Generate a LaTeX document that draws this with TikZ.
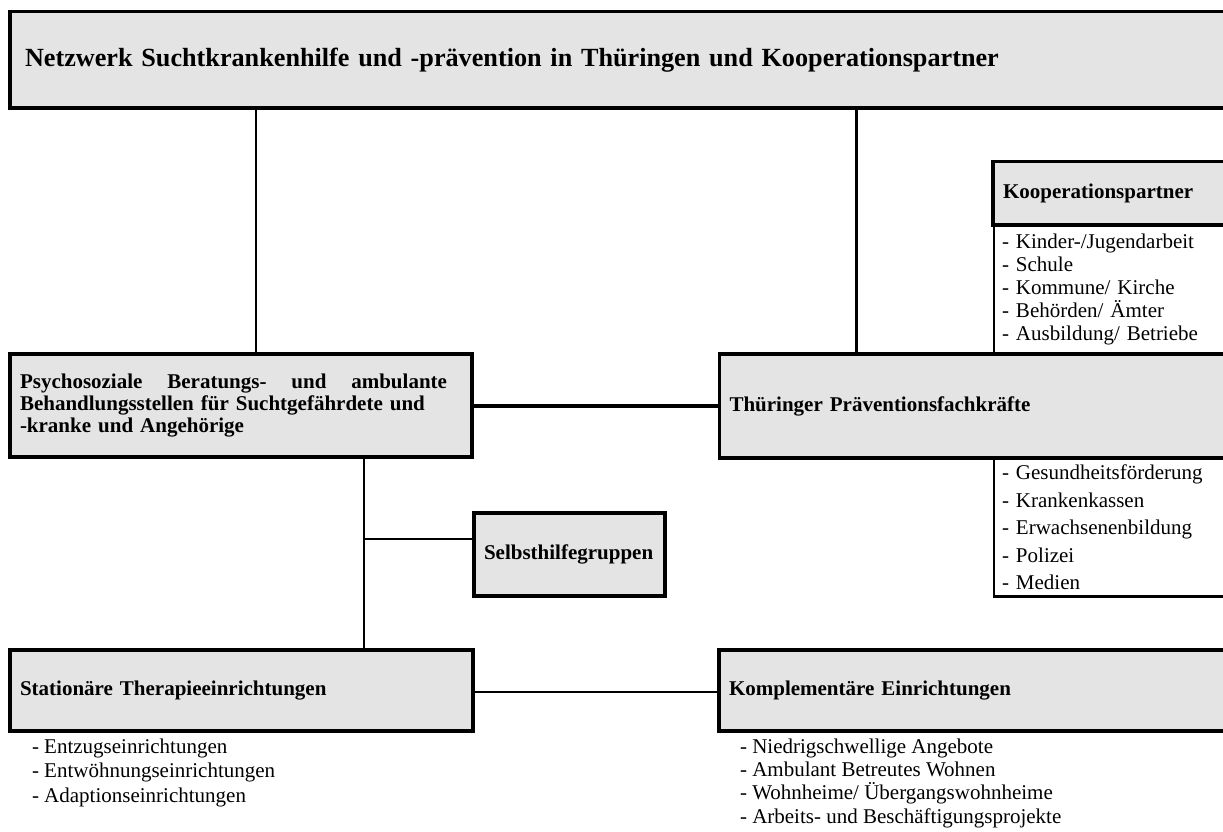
\documentclass[tikz,border=0pt]{standalone}
\usepackage{fontspec}
\setmainfont{Liberation Serif}
\definecolor{boxgray}{RGB}{228,228,228}
\begin{document}
\begin{tikzpicture}[x=1pt,y=-1pt,
  box/.style={draw, line width=3.5pt, fill=boxgray, rectangle, anchor=north west,
    inner xsep=10pt, inner ysep=0pt, outer sep=0pt, align=left,
    font=\fontsize{21}{22}\selectfont\bfseries},
  lstbox/.style={draw, line width=2.5pt, rectangle, anchor=north west,
    inner xsep=8pt, inner ysep=0pt, outer sep=0pt, align=left,
    font=\fontsize{21}{23}\selectfont},
  plainlist/.style={anchor=north west, inner sep=0pt, outer sep=0pt, align=left},
  conn/.style={line width=2.5pt}]
\useasboundingbox (0,0) rectangle (1223,832);
\clip (0,0) rectangle (1223,832);

% list boxes (drawn first, boxes on top)
\node[lstbox, text width=230pt, minimum width=246pt, minimum height=129pt] (koopl) at (994,225)
  {- Kinder-/Jugendarbeit\\- Schule\\- Kommune/ Kirche\\- Behörden/ Ämter\\- Ausbildung/ Betriebe};
\node[lstbox, text width=230pt, minimum width=246pt, minimum height=138.5pt,
  font=\fontsize{21}{27.5}\selectfont] (lowl) at (994,458)
  {- Gesundheitsförderung\\- Krankenkassen\\- Erwachsenenbildung\\- Polizei\\- Medien};

% main boxes
\node[box, inner xsep=15pt, text width=1200pt, minimum width=1230pt, minimum height=96.5pt,
  font=\fontsize{26.2}{28}\selectfont\bfseries] (top) at (10,11.5)
  {Netzwerk Suchtkrankenhilfe und -prävention in Thüringen und Kooperationspartner};
\node[box, text width=442pt, minimum width=462pt, minimum height=103pt] (psych) at (10,354)
  {\hbox to 427pt{Psychosoziale\hfill Beratungs-\hfill und\hfill ambulante}\\Behandlungsstellen für Suchtgefährdete und\\-kranke und Angehörige};
\node[box, text width=171pt, minimum width=191pt, minimum height=83pt] (selbst) at (474,513)
  {Selbsthilfegruppen};
\node[box, text width=500.5pt, minimum width=520.5pt, minimum height=104pt] (thur) at (719.5,354)
  {Thüringer Präventionsfachkräfte};
\node[box, text width=227pt, minimum width=247pt, minimum height=63.5pt] (koop) at (993,161.5)
  {Kooperationspartner};
\node[box, text width=443pt, minimum width=463pt, minimum height=81pt] (stat) at (10,650)
  {Stationäre Therapieeinrichtungen};
\node[box, text width=501pt, minimum width=521pt, minimum height=81pt] (komp) at (719,650)
  {Komplementäre Einrichtungen};

% lists without border
\node[plainlist, font=\fontsize{21}{24.5}\selectfont] (statl) at (32,738.7)
  {- Entzugseinrichtungen\\- Entwöhnungseinrichtungen\\- Adaptionseinrichtungen};
\node[plainlist, font=\fontsize{21}{23.3}\selectfont] (kompl) at (740,738.7)
  {- Niedrigschwellige Angebote\\- Ambulant Betreutes Wohnen\\- Wohnheime/ Übergangswohnheime\\- Arbeits- und Beschäftigungsprojekte};

% connectors
\draw[conn] ([xshift=246pt]psych.north west) -- ([xshift=246pt]psych.north west |- top.south);
\draw[conn] ([xshift=137pt]thur.north west) -- ([xshift=137pt]thur.north west |- top.south);
\draw[line width=4pt] (psych.east) -- (psych.east -| thur.west);
\draw[conn] ([xshift=354pt]psych.south west) coordinate (vx) -- (vx |- stat.north);
\draw[conn] ([yshift=15.5pt]selbst.west) -- ([yshift=15.5pt]selbst.west -| vx);
\draw[line width=2pt] ([yshift=-1pt]stat.east) -- ([yshift=-1pt]stat.east -| komp.west);
\end{tikzpicture}
\end{document}
